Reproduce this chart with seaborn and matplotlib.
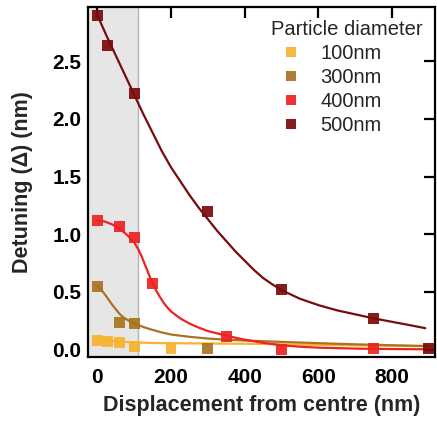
import numpy as np
import pandas as pd
import matplotlib
matplotlib.use("Agg")
import matplotlib.pyplot as plt
import seaborn as sns

# ---- data ----
sizes = ["100nm", "300nm", "400nm", "500nm"]
colors = ["#f7b230", "#a87320", "#ec2320", "#7a0b0b"]

# measured points
x_100 = [0, 28, 60, 100, 200]
y_100 = [0.075, 0.07, 0.06, 0.025, 0.01]
x_300 = [0, 60, 100, 300]
y_300 = [0.55, 0.235, 0.225, 0.01]
x_400 = [0, 60, 100, 150, 350, 500, 750]
y_400 = [1.12, 1.065, 0.97, 0.57, 0.115, 0.0, 0.01]
x_500 = [0, 28, 100, 300, 500, 750, 900]
y_500 = [2.90, 2.64, 2.22, 1.20, 0.52, 0.27, 0.01]

# fitted curves
cx_100 = [0, 60, 150, 300, 400, 600, 750, 900]
cy_100 = [0.085, 0.068, 0.056, 0.052, 0.05, 0.04, 0.034, 0.028]
cx_300 = [0, 10, 20, 30, 40, 50, 60, 70, 80, 90, 100, 125, 150, 175, 200, 250,
          300, 350, 400, 450, 500, 600, 700, 800, 900]
cy_300 = [0.55, 0.52, 0.48, 0.435, 0.39, 0.35, 0.31, 0.28, 0.26, 0.24, 0.225,
          0.195, 0.17, 0.148, 0.13, 0.11, 0.095, 0.085, 0.078, 0.072, 0.066,
          0.055, 0.045, 0.037, 0.03]
cx_400 = [0, 20, 40, 60, 80, 100, 110, 120, 130, 140, 150, 160, 170, 180, 190,
          200, 225, 250, 275, 300, 350, 400, 450, 500, 550, 600, 700, 800, 900]
cy_400 = [1.12, 1.11, 1.085, 1.05, 0.995, 0.93, 0.875, 0.81, 0.73, 0.65, 0.575,
          0.51, 0.455, 0.405, 0.365, 0.33, 0.27, 0.225, 0.19, 0.16, 0.12, 0.085,
          0.058, 0.037, 0.024, 0.016, 0.008, 0.004, 0.002]
cx_500 = [0, 25, 50, 75, 100, 125, 150, 175, 200, 225, 250, 275, 300, 325, 350,
          375, 400, 425, 450, 475, 500, 550, 600, 650, 700, 750, 800, 850, 890]
cy_500 = [2.90, 2.72, 2.55, 2.38, 2.21, 2.04, 1.88, 1.72, 1.58, 1.46, 1.34, 1.23,
          1.13, 1.03, 0.94, 0.85, 0.77, 0.69, 0.62, 0.565, 0.515, 0.44, 0.385,
          0.34, 0.305, 0.27, 0.24, 0.21, 0.185]

pts = pd.concat([
    pd.DataFrame({"x": x, "y": y, "size": s})
    for x, y, s in zip([x_100, x_300, x_400, x_500], [y_100, y_300, y_400, y_500], sizes)
])
curves = pd.concat([
    pd.DataFrame({"x": x, "y": y, "size": s})
    for x, y, s in zip([cx_100, cx_300, cx_400, cx_500], [cy_100, cy_300, cy_400, cy_500], sizes)
])

palette = dict(zip(sizes, colors))

sns.set_theme(style="white")
plt.rcParams["font.family"] = ["Liberation Sans", "DejaVu Sans"]

fig = plt.figure(figsize=(4.37, 4.24), dpi=100)
ax = fig.add_axes([0.2025, 0.158, 0.7925, 0.8255])

ax.axvspan(-30, 110, color="#e6e6e6", zorder=0, lw=0)
ax.axvline(110, color="#b5b5b5", lw=1.0, zorder=0.5)

sns.lineplot(data=curves, x="x", y="y", hue="size", palette=palette,
             hue_order=sizes, legend=False, lw=1.6, ax=ax, sort=False,
             estimator=None)
sns.scatterplot(data=pts, x="x", y="y", hue="size", palette=palette,
                hue_order=sizes, marker="s", s=62, linewidth=0, alpha=0.92,
                ax=ax, zorder=3)

ax.set_xlim(-24, 916)
ax.set_ylim(-0.065, 2.97)
ax.set_xticks([0, 200, 400, 600, 800])
ax.set_yticks([0.0, 0.5, 1.0, 1.5, 2.0, 2.5])
ax.set_yticklabels(["0.0", "0.5", "1.0", "1.5", "2.0", "2.5"])

ax.tick_params(direction="in", length=8, width=1.6, top=True, right=True,
               labelsize=15, pad=5, colors="black")
ax.tick_params(axis="x", pad=8)
for lab in ax.get_xticklabels() + ax.get_yticklabels():
    lab.set_fontweight("bold")
for sp in ax.spines.values():
    sp.set_linewidth(1.6)
    sp.set_color("black")

ax.set_xlabel("Displacement from centre (nm)", fontsize=15.5, fontweight="bold",
              labelpad=6)
ax.set_ylabel("Detuning (\u0394) (nm)", fontsize=15.5, fontweight="bold",
              labelpad=14)

handles, labels = ax.get_legend_handles_labels()
leg = ax.legend(handles=handles, labels=labels, title="Particle diameter",
                loc="upper right", bbox_to_anchor=(0.988, 0.986),
                frameon=False, fontsize=14.5, alignment="left",
                title_fontsize=14.5, handletextpad=0.45, handlelength=2.0,
                labelspacing=0.25, borderaxespad=0.1, borderpad=0.3,
                markerscale=1.0)

fig.savefig("out.png", dpi=100)
